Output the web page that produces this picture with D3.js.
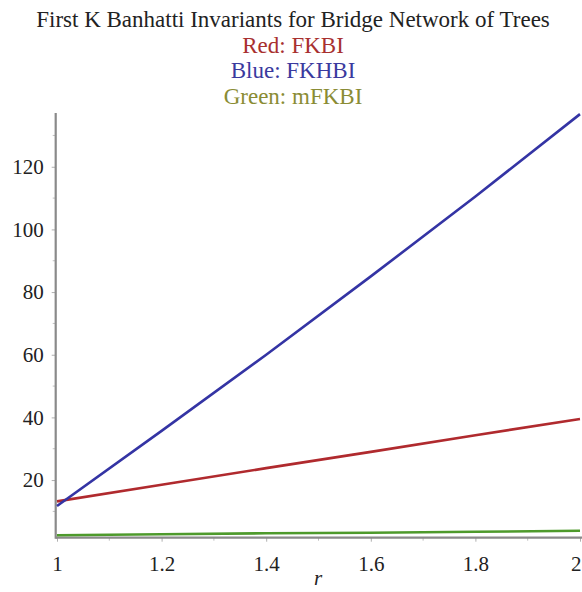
<!DOCTYPE html>
<html>
<head>
<meta charset="utf-8">
<script src="https://cdn.jsdelivr.net/npm/d3@7"></script>
<style>
  html, body { margin: 0; padding: 0; background: #ffffff; }
  svg { display: block; }
  text { font-family: "Liberation Serif", "Times New Roman", serif; }
</style>
</head>
<body>
<svg id="chart" width="582" height="592"></svg>
<script>
// Parameter r and the three invariants evaluated along it
const rValues = [1, 1.2, 1.4, 1.6, 1.8, 2];
const fkbi    = [13.2, 18.5, 23.8, 29.0, 34.3, 39.5];
const fkhbi   = [11.7, 35.7, 60.0, 85.0, 110.5, 136.8];
const mfkbi   = [2.4, 2.7, 3.0, 3.2, 3.5, 3.8];

const xTicks = [1, 1.2, 1.4, 1.6, 1.8, 2];
const xMinor = [1.1, 1.3, 1.5, 1.7, 1.9];
const yTicks = [20, 40, 60, 80, 100, 120];
const yMinor = [10, 30, 50, 70, 90, 110, 130];

const titleLines = [
  { text: "First K Banhatti Invariants for Bridge Network of Trees", color: "#222222" },
  { text: "Red: FKBI",    color: "#a8302f" },
  { text: "Blue: FKHBI",  color: "#3a3a9e" },
  { text: "Green: mFKBI", color: "#8a8c34" }
];

const series = [
  { values: fkbi,  color: "#b02a2e" },
  { values: fkhbi, color: "#3434a4" },
  { values: mfkbi, color: "#4e9a2c" }
];

const W = 582;
const svg = d3.select("#chart");

const x = d3.scaleLinear().domain([1, 2]).range([57, 580]);
const y = d3.scaleLinear().domain([1.6, 137]).range([537.7, 113.5]);

// Title block
svg.append("g").selectAll("text")
  .data(titleLines)
  .join("text")
  .attr("x", 293)
  .attr("y", (d, i) => 27 + i * 25.7)
  .attr("text-anchor", "middle")
  .attr("font-size", 23)
  .attr("fill", d => d.color)
  .text(d => d.text);

const axisColor = "#8a8a8a";

// Bottom axis
const xAxis = svg.append("g")
  .attr("transform", `translate(0,${y.range()[0]})`)
  .call(d3.axisBottom(x).tickValues(xTicks).tickFormat(d3.format("")).tickSize(4).tickPadding(14));
xAxis.select(".domain").remove();
xAxis.selectAll(".tick line").attr("stroke", "#b0b0b0");
xAxis.selectAll(".tick text")
  .attr("font-family", "Liberation Serif, serif")
  .attr("font-size", 21)
  .attr("fill", "#222222");
// keep the last label inside the right edge
xAxis.selectAll(".tick text")
  .filter(d => x(d) + 6 > W)
  .attr("text-anchor", "end")
  .attr("x", d => W - 1 - x(d));
xAxis.append("g").selectAll("line")
  .data(xMinor)
  .join("line")
  .attr("x1", d => x(d)).attr("x2", d => x(d))
  .attr("y1", 0).attr("y2", 3)
  .attr("stroke", "#c0c0c0");
xAxis.append("line")
  .attr("x1", 55.7).attr("x2", W)
  .attr("y1", 0).attr("y2", 0)
  .attr("stroke", axisColor).attr("stroke-width", 2.2);

// Left axis
const yAxis = svg.append("g")
  .attr("transform", "translate(55.7,0)")
  .call(d3.axisLeft(y).tickValues(yTicks).tickSize(4).tickPadding(8));
yAxis.select(".domain").remove();
yAxis.selectAll(".tick line").attr("stroke", "#b0b0b0");
yAxis.selectAll(".tick text")
  .attr("font-family", "Liberation Serif, serif")
  .attr("font-size", 21)
  .attr("fill", "#222222");
yAxis.append("g").selectAll("line")
  .data(yMinor)
  .join("line")
  .attr("x1", 0).attr("x2", -3)
  .attr("y1", d => y(d)).attr("y2", d => y(d))
  .attr("stroke", "#c0c0c0");
yAxis.append("line")
  .attr("x1", 0).attr("x2", 0)
  .attr("y1", 113).attr("y2", 538.8)
  .attr("stroke", axisColor).attr("stroke-width", 2.2);

// Axis title
svg.append("text")
  .attr("x", 318)
  .attr("y", 585)
  .attr("text-anchor", "middle")
  .attr("font-size", 21)
  .attr("font-style", "italic")
  .attr("fill", "#222222")
  .text("r");

// Curves
const line = d3.line()
  .x((d, i) => x(rValues[i]))
  .y(d => y(d));

svg.append("g").selectAll("path")
  .data(series)
  .join("path")
  .attr("d", d => line(d.values))
  .attr("fill", "none")
  .attr("stroke", d => d.color)
  .attr("stroke-width", 2.6)
  .attr("stroke-linecap", "butt");
</script>
</body>
</html>
